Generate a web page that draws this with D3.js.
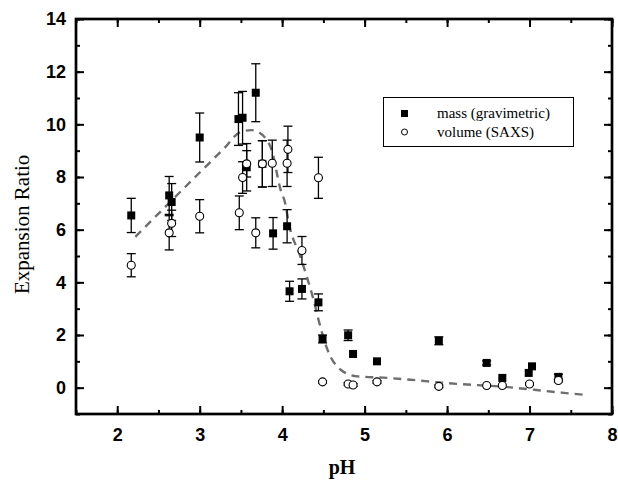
<!DOCTYPE html>
<html>
<head>
<meta charset="utf-8">
<script src="https://cdn.jsdelivr.net/npm/d3@7"></script>
<style>
  body { margin: 0; background: #fff; }
</style>
</head>
<body>
<div id="chart"></div>
<script>
// mass (gravimetric): pH, expansion ratio, error
const massPH  = [2.17, 2.63, 2.66, 3.0, 3.47, 3.52, 3.57, 3.68, 3.76, 3.89, 4.06, 4.09, 4.24, 4.44, 4.49, 4.80, 4.86, 5.15, 5.90, 6.48, 6.67, 6.99, 7.03, 7.35];
const massVal = [6.54, 7.30, 7.05, 9.5, 10.2, 10.25, 8.37, 11.2, 8.5, 5.86, 6.13, 3.66, 3.75, 3.24, 1.85, 1.99, 1.28, 1.0, 1.78, 0.94, 0.37, 0.56, 0.81, 0.41];
const massErr = [0.65, 0.72, 0.7, 0.93, 1.0, 1.0, 0.9, 1.1, 0.88, 0.6, 0.63, 0.38, 0.38, 0.32, 0.15, 0.2, 0, 0, 0.15, 0.08, 0, 0, 0, 0.1];

// volume (SAXS)
const volPH  = [2.17, 2.63, 2.66, 3.0, 3.48, 3.52, 3.57, 3.68, 3.76, 3.88, 4.06, 4.07, 4.24, 4.44, 4.49, 4.80, 4.86, 5.15, 5.90, 6.48, 6.67, 7.00, 7.35];
const volVal = [4.65, 5.88, 6.24, 6.51, 6.64, 7.98, 8.5, 5.88, 8.5, 8.52, 8.52, 9.05, 5.21, 7.97, 0.22, 0.14, 0.10, 0.22, 0.05, 0.08, 0.08, 0.14, 0.27];
const volErr = [0.44, 0.65, 0.5, 0.63, 0.64, 0.6, 0.5, 0.57, 0.88, 0.88, 0.88, 0.88, 0.53, 0.78, 0.05, 0.05, 0.05, 0.05, 0.05, 0, 0, 0.05, 0.05];

// dashed guide curve
const fitPH  = [2.22, 2.6, 3.0, 3.3, 3.49, 3.63, 3.81, 3.87, 3.98, 4.04, 4.08, 4.22, 4.30, 4.38, 4.44, 4.55, 4.71, 4.91, 5.23, 5.56, 5.93, 6.29, 6.66, 7.06, 7.39, 7.67];
const fitVal = [5.73, 6.92, 8.17, 9.1, 9.7, 9.78, 9.43, 9.05, 7.53, 6.96, 6.26, 4.99, 4.2, 3.35, 2.59, 1.44, 0.68, 0.43, 0.38, 0.3, 0.19, 0.11, 0.04, -0.08, -0.19, -0.27];

const xTicks = [2, 3, 4, 5, 6, 7, 8];
const yTicks = [0, 2, 4, 6, 8, 10, 12, 14];
const legendLabels = ["mass (gravimetric)", "volume (SAXS)"];

let width = 618,
    height = 489,
    margin = {left: 76, right: 6, top: 19, bottom: 75};

let svg = d3.select("#chart").append("svg")
    .attr("width", width)
    .attr("height", height);

let x = d3.scaleLinear().domain([1.5, 8]).range([margin.left, width - margin.right]);
let y = d3.scaleLinear().domain([-1, 14]).range([height - margin.bottom, margin.top]);

let mass = massPH.map((p, i) => ({x: p, y: massVal[i], e: massErr[i]}));
let vol = volPH.map((p, i) => ({x: p, y: volVal[i], e: volErr[i]}));
let fit = fitPH.map((p, i) => ({x: p, y: fitVal[i]}));

// axes, ticks inward on all four sides
const minorX = d3.range(1.5, 8.01, 0.5);
const minorY = d3.range(-1, 14.01, 1);

svg.append("g")
    .attr("transform", `translate(0,${y(-1)})`)
    .call(d3.axisBottom(x).tickValues(minorX).tickSize(-4).tickFormat(""))
    .call(g => g.select(".domain").remove());
svg.append("g")
    .attr("class", "xaxis")
    .attr("transform", `translate(0,${y(-1)})`)
    .call(d3.axisBottom(x).tickValues(xTicks).tickSize(-8).tickPadding(14).tickFormat(d3.format("d")))
    .call(g => g.select(".domain").remove());
svg.append("g")
    .attr("transform", `translate(0,${y(14)})`)
    .call(d3.axisTop(x).tickValues(minorX).tickSize(-4).tickFormat(""))
    .call(g => g.select(".domain").remove());
svg.append("g")
    .attr("transform", `translate(0,${y(14)})`)
    .call(d3.axisTop(x).tickValues(xTicks).tickSize(-8).tickFormat(""))
    .call(g => g.select(".domain").remove());

svg.append("g")
    .attr("transform", `translate(${x(1.5)},0)`)
    .call(d3.axisLeft(y).tickValues(minorY).tickSize(-4).tickFormat(""))
    .call(g => g.select(".domain").remove());
svg.append("g")
    .attr("class", "yaxis")
    .attr("transform", `translate(${x(1.5)},0)`)
    .call(d3.axisLeft(y).tickValues(yTicks).tickSize(-8).tickPadding(10).tickFormat(d3.format("d")))
    .call(g => g.select(".domain").remove());
svg.append("g")
    .attr("transform", `translate(${x(8)},0)`)
    .call(d3.axisRight(y).tickValues(minorY).tickSize(-4).tickFormat(""))
    .call(g => g.select(".domain").remove());
svg.append("g")
    .attr("transform", `translate(${x(8)},0)`)
    .call(d3.axisRight(y).tickValues(yTicks).tickSize(-8).tickFormat(""))
    .call(g => g.select(".domain").remove());

svg.selectAll(".tick line").attr("stroke", "#000").attr("stroke-width", 2);
svg.selectAll(".xaxis text, .yaxis text")
    .attr("fill", "#000")
    .style("font-family", "'Liberation Sans', Arial, sans-serif")
    .style("font-weight", "bold")
    .style("font-size", "18px");

svg.append("rect")
    .attr("x", x(1.5))
    .attr("y", y(14))
    .attr("width", x(8) - x(1.5))
    .attr("height", y(-1) - y(14))
    .attr("fill", "none")
    .attr("stroke", "#000")
    .attr("stroke-width", 2.7);

// dashed curve
svg.append("path")
    .datum(fit)
    .attr("fill", "none")
    .attr("stroke", "#6e6e6e")
    .attr("stroke-width", 2.4)
    .attr("stroke-dasharray", "8,6")
    .attr("d", d3.line().x(d => x(d.x)).y(d => y(d.y)).curve(d3.curveMonotoneX));

// error bars
function errorBars(data) {
    let g = svg.append("g").attr("stroke", "#000").attr("stroke-width", 1.3);
    let withErr = data.filter(d => d.e > 0);
    g.selectAll(".v").data(withErr).enter().append("line")
        .attr("x1", d => x(d.x)).attr("x2", d => x(d.x))
        .attr("y1", d => y(d.y + d.e)).attr("y2", d => y(d.y - d.e));
    [1, -1].forEach(s => {
        g.selectAll(".c" + s).data(withErr).enter().append("line")
            .attr("x1", d => x(d.x) - 4.5).attr("x2", d => x(d.x) + 4.5)
            .attr("y1", d => y(d.y + s * d.e)).attr("y2", d => y(d.y + s * d.e));
    });
}
errorBars(mass);
errorBars(vol);

svg.append("g").selectAll("rect")
    .data(mass)
    .enter().append("rect")
    .attr("x", d => x(d.x) - 4)
    .attr("y", d => y(d.y) - 4)
    .attr("width", 8)
    .attr("height", 8)
    .attr("fill", "#000");

svg.append("g").selectAll("circle")
    .data(vol)
    .enter().append("circle")
    .attr("cx", d => x(d.x))
    .attr("cy", d => y(d.y))
    .attr("r", 4)
    .attr("fill", "#fff")
    .attr("stroke", "#000")
    .attr("stroke-width", 1.1);

// legend
let legend = svg.append("g");
legend.append("rect")
    .attr("x", 383.5).attr("y", 97.5)
    .attr("width", 190).attr("height", 49)
    .attr("fill", "#fff")
    .attr("stroke", "#000")
    .attr("stroke-width", 1);
legend.append("rect")
    .attr("x", 401).attr("y", 110)
    .attr("width", 7).attr("height", 7)
    .attr("fill", "#000");
legend.append("circle")
    .attr("cx", 404.5).attr("cy", 132)
    .attr("r", 3)
    .attr("fill", "#fff")
    .attr("stroke", "#000");
legend.selectAll("text")
    .data(legendLabels)
    .enter().append("text")
    .attr("x", 437)
    .attr("y", (d, i) => 118 + i * 19)
    .style("font-family", "'Liberation Serif', 'Times New Roman', serif")
    .style("font-size", "15px")
    .text(d => d);

// axis titles
svg.append("text")
    .attr("transform", `translate(29,${y(6.2)}) rotate(-90)`)
    .attr("text-anchor", "middle")
    .style("font-family", "'Liberation Serif', 'Times New Roman', serif")
    .style("font-size", "21px")
    .text("Expansion Ratio");

svg.append("text")
    .attr("x", 342)
    .attr("y", 474)
    .attr("text-anchor", "middle")
    .style("font-family", "'Liberation Serif', 'Times New Roman', serif")
    .style("font-weight", "bold")
    .style("font-size", "20px")
    .text("pH");
</script>
</body>
</html>
